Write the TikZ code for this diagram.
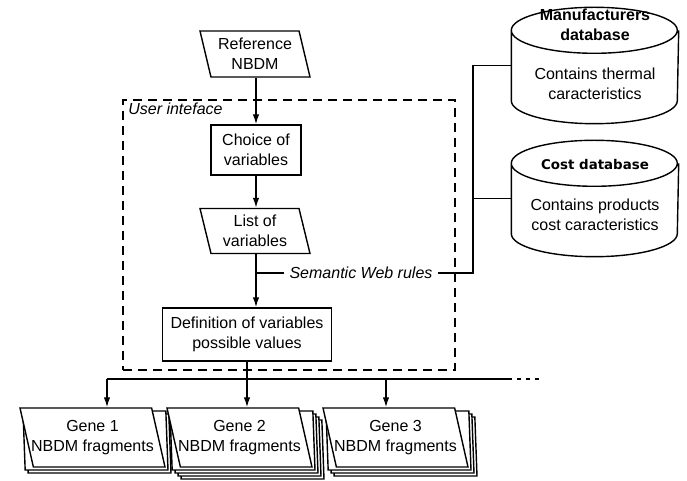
\documentclass[tikz,border=0pt]{standalone}
\usepackage{fontspec}
\setmainfont{Liberation Sans}
\newfontfamily\costfont{DejaVu Sans}
\usetikzlibrary{shapes.geometric,arrows.meta}
\newcommand{\diafont}{\fontsize{16}{20}\selectfont}
\begin{document}
\begin{tikzpicture}[x=1pt, y=1pt, line width=1.4pt, >={Latex[length=10pt,width=6.5pt]},
  every node/.style={font=\diafont, align=center},
  procbox/.style={draw, rectangle, inner sep=3pt},
  iobox/.style={draw, trapezium, trapezium left angle=106, trapezium right angle=74, trapezium stretches body, inner xsep=4pt},
  genebox/.style={draw, fill=white, trapezium, trapezium left angle=108, trapezium right angle=72, trapezium stretches body, inner xsep=-12pt, minimum width=145pt, minimum height=59pt},
  dbase/.style={rectangle, minimum width=166pt, minimum height=115pt}]
  \useasboundingbox (0,0) rectangle (687,481);
  \node[iobox, minimum width=110pt, minimum height=46pt] (ref) at (255,427) {Reference\\NBDM};
  \node[draw, dash pattern=on 9pt off 6pt, minimum width=332pt, minimum height=270pt] (ui) at (289,246) {};
  \node[anchor=north west, font=\diafont\itshape] (uilabel) at ([xshift=2pt]ui.north west) {User inteface};
  \node[procbox, minimum width=90pt, minimum height=50pt] (choice) at (256,331) {Choice of\\variables};
  \node[iobox, minimum width=110pt, minimum height=45pt] (list) at (255,250) {List of\\variables};
  \node[procbox, minimum width=169pt, minimum height=53pt] (def) at (247,146.5) {Definition of variables\\possible values};
  \node[font=\diafont\itshape, inner xsep=5pt] (swr) at (361,208) {Semantic Web rules};
  \node[dbase] (mfr) at (595,415.5) {};
  \node[dbase] (cost) at (595,282.5) {};
  \foreach \db in {mfr,cost}
    \draw ([yshift=-23pt]\db.north west) arc[start angle=180, end angle=360, x radius=83, y radius=23]
      arc[start angle=0, end angle=180, x radius=83, y radius=23] -- ([yshift=23pt]\db.south west)
      arc[start angle=180, end angle=360, x radius=83, y radius=23] -- ([yshift=-23pt]\db.north east);
  \node[font=\diafont\bfseries] (mfrtitle) at (595,456.5) {Manufacturers\\database};
  \node (mfrtext) at (595,397) {Contains thermal\\caracteristics};
  \node[font=\costfont\bfseries\fontsize{13.4}{16}\selectfont] (costtitle) at (595,316) {Cost database};
  \node (costtext) at (595,266.5) {Contains products\\cost caracteristics};
  \foreach \name/\x/\n in {1/92.5/2, 2/239.5/4, 3/395.5/3} {
    \foreach \k in {\n,...,1}
      \node[genebox] (gene\name-\k) at (\x+3*\k, 43.5-3*\k) {};
    \node[genebox] (gene\name) at (\x,43.5) {Gene \name\\NBDM fragments};
  }
  \coordinate (jn) at (473,208);
  \coordinate (b1) at (107,102);
  \coordinate (b3) at (386,102);
  \coordinate (bend) at (508,102);
  \coordinate (bdots) at (540,102);
  \draw[->] (choice.north |- ref.south) -- (choice.north);
  \draw[->] (choice.south) -- (choice.south |- list.north);
  \draw[->] (choice.south |- list.south) -- (choice.south |- def.north);
  \draw (choice.south |- swr) -- (swr.west);
  \draw (swr.east) -- (jn) |- (mfr.west);
  \draw (jn) |- (cost.west);
  \draw[->] (def.south) -- (def.south |- gene2.north);
  \draw (b1) -- (bend);
  \draw[dash pattern=on 4pt off 5pt] (bend) -- (bdots);
  \draw[->] (b1) -- (b1 |- gene1.north);
  \draw[->] (b3) -- (b3 |- gene3.north);
\end{tikzpicture}
\end{document}
